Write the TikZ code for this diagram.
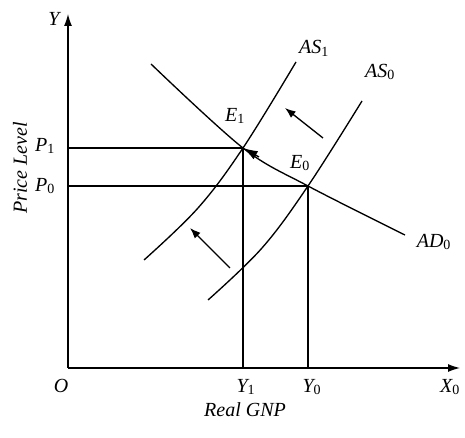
\documentclass[tikz,border=0pt]{standalone}
\usepackage{fontspec}
\setmainfont{Liberation Serif}
\usetikzlibrary{arrows.meta}
\begin{document}
\begin{tikzpicture}[x=0.75pt,y=-0.75pt,
  axis/.style={line width=0.9pt,-{Latex[length=9pt,width=6pt]}},
  curve/.style={line width=1pt},
  guide/.style={line width=0.9pt},
  shift arrow/.style={line width=1pt,-{Latex[length=8pt,width=6pt]}},
  lab/.style={font=\fontsize{15}{17}\selectfont\itshape, inner sep=1pt}]
\useasboundingbox (0,0) rectangle (465,438);
\coordinate (O) at (68,368);
\coordinate (Ytop) at (68,14);
\coordinate (Xend) at (460,368);
\coordinate (E1) at (243,148);
\coordinate (E0) at (308,186);
\coordinate (Y1) at (243,368);
\coordinate (Y0) at (308,368);
\coordinate (P1) at (68,148);
\coordinate (P0) at (68,186);
\coordinate (ADtail) at (259,157);
% axes
\draw[axis] (O) -- (Ytop);
\draw[axis] (O) -- (Xend);
% guides
\draw[guide] (P1) -- (E1) -- (Y1);
\draw[guide] (P0) -- (E0) -- (Y0);
% AD0
\draw[curve] plot[smooth,tension=0.55] coordinates {(151,64) (E1) (E0) (405,235)};
% AS1
\draw[curve] plot[smooth,tension=0.6] coordinates {(144,260) (198,208) (E1) (296,62)};
% AS0
\draw[curve] plot[smooth,tension=0.6] coordinates {(208,300) (262,248) (E0) (362,101)};
% shift arrows
\draw[shift arrow] (323,138) -- (285,108);
\draw[shift arrow] (230,268) -- (190,228);
\draw[line width=1pt,-{Latex[length=11pt,width=7pt]}] (ADtail) -- (E1);
% labels
\node[lab] (lY) at (54,19) {Y};
\node[lab] (lO) at (61,386) {O};
\node[lab] (lY1) at (246,387) {Y\textsubscript{\upshape 1}};
\node[lab] (lY0) at (312,387) {Y\textsubscript{\upshape 0}};
\node[lab] (lX0) at (450,387) {X\textsubscript{\upshape 0}};
\node[lab] (lGNP) at (245,410) {Real GNP};
\node[lab,rotate=90] (lPL) at (20,168) {Price Level};
\node[lab] (lP1) at (45,146) {P\textsubscript{\upshape 1}};
\node[lab] (lP0) at (45,186) {P\textsubscript{\upshape 0}};
\node[lab] (lE1) at (235,116) {E\textsubscript{\upshape 1}};
\node[lab] (lE0) at (300,163) {E\textsubscript{\upshape 0}};
\node[lab] (lAS1) at (314,48) {AS\textsubscript{\upshape 1}};
\node[lab] (lAS0) at (380,72) {AS\textsubscript{\upshape 0}};
\node[lab] (lAD0) at (434,242) {AD\textsubscript{\upshape 0}};
\end{tikzpicture}
\end{document}
